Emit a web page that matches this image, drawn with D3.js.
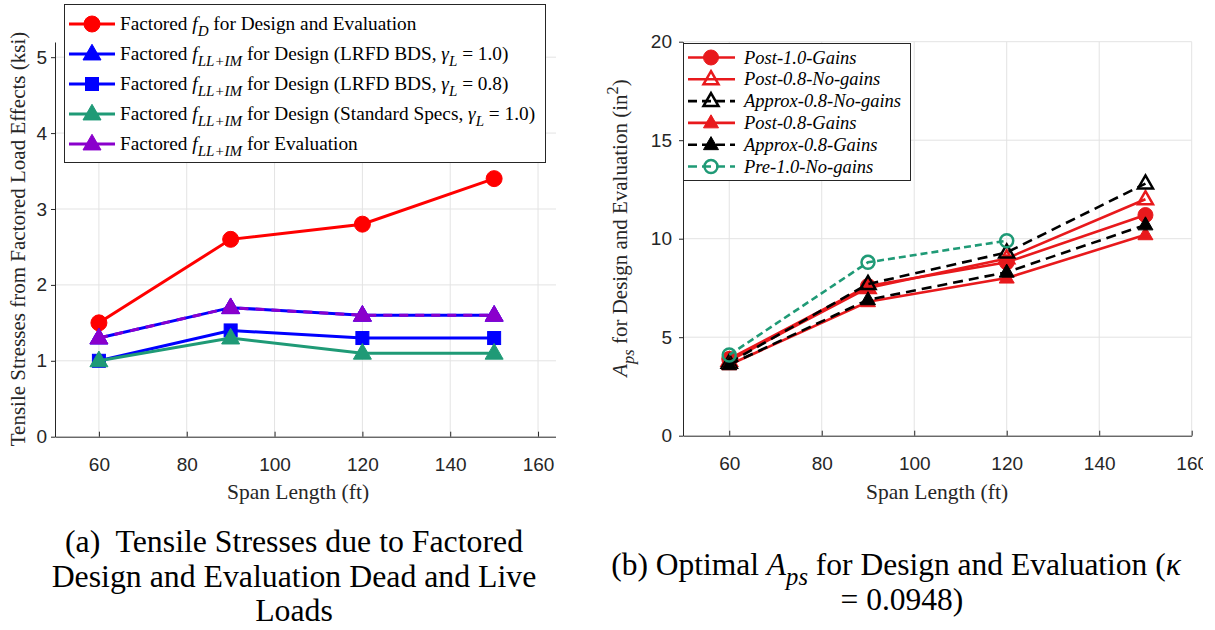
<!DOCTYPE html>
<html>
<head>
<meta charset="utf-8">
<script src="https://cdn.jsdelivr.net/npm/d3@7"></script>
<style>
body { margin: 0; background: #fff; }
svg { display: block; }
</style>
</head>
<body>
<svg id="fig" width="1215" height="630"></svg>
<script>
// --- data ---
var spans = [60, 90, 120, 150];
var spansPre = [60, 90, 120];
var xTicks = [60, 80, 100, 120, 140, 160];
var yTicksA = [0, 1, 2, 3, 4, 5];
var yTicksB = [0, 5, 10, 15, 20];

// (a) tensile stresses (ksi)
var fD = [1.5, 2.6, 2.8, 3.4];
var fLLDesign10 = [1.3, 1.7, 1.6, 1.6];
var fLLDesign08 = [1.0, 1.4, 1.3, 1.3];
var fLLStd10 = [1.0, 1.3, 1.1, 1.1];
var fLLEval = [1.3, 1.7, 1.6, 1.6];

// (b) optimal Aps (in^2)
var post10Gains = [3.9, 7.6, 8.8, 11.2];
var post08NoGains = [3.8, 7.5, 9.0, 12.0];
var approx08NoGains = [3.7, 7.7, 9.3, 12.8];
var post08Gains = [3.6, 6.8, 8.0, 10.2];
var approx08Gains = [3.6, 6.9, 8.3, 10.7];
var pre10NoGains = [4.1, 8.8, 9.9];

var legendA = [
  [{t: 'Factored '}, {t: 'f', i: 1}, {t: 'D', i: 1, sub: 1}, {t: ' for Design and Evaluation'}],
  [{t: 'Factored '}, {t: 'f', i: 1}, {t: 'LL+IM', i: 1, sub: 1}, {t: ' for Design (LRFD BDS, '}, {t: 'γ', i: 1}, {t: 'L', i: 1, sub: 1}, {t: ' = 1.0)'}],
  [{t: 'Factored '}, {t: 'f', i: 1}, {t: 'LL+IM', i: 1, sub: 1}, {t: ' for Design (LRFD BDS, '}, {t: 'γ', i: 1}, {t: 'L', i: 1, sub: 1}, {t: ' = 0.8)'}],
  [{t: 'Factored '}, {t: 'f', i: 1}, {t: 'LL+IM', i: 1, sub: 1}, {t: ' for Design (Standard Specs,  '}, {t: 'γ', i: 1}, {t: 'L', i: 1, sub: 1}, {t: ' = 1.0)'}],
  [{t: 'Factored '}, {t: 'f', i: 1}, {t: 'LL+IM', i: 1, sub: 1}, {t: ' for Evaluation'}]
];
var legendB = ['Post-1.0-Gains', 'Post-0.8-No-gains', 'Approx-0.8-No-gains', 'Post-0.8-Gains', 'Approx-0.8-Gains', 'Pre-1.0-No-gains'];

var RED = '#ff0000', BLUE = '#0000ff', GREEN = '#1f9a76', PURPLE = '#8a00cc';
var RED2 = '#e8191c', BLACK = '#000000';
var INK = '#262626', GRID = '#e3e3e3';
var SERIF = '"Liberation Serif", "Times New Roman", serif';
var SANS = '"Liberation Sans", Arial, sans-serif';

var seriesA = [
  {x: spans, y: fD, color: RED, marker: 'circle', fill: RED},
  {x: spans, y: fLLDesign10, color: BLUE, marker: 'tri', fill: BLUE},
  {x: spans, y: fLLDesign08, color: BLUE, marker: 'square', fill: BLUE},
  {x: spans, y: fLLStd10, color: GREEN, marker: 'tri', fill: GREEN},
  {x: spans, y: fLLEval, color: PURPLE, marker: 'tri', fill: PURPLE, dash: '9,7'}
];
var seriesB = [
  {x: spans, y: post10Gains, color: RED2, marker: 'circle', fill: RED2},
  {x: spans, y: post08NoGains, color: RED2, marker: 'tri', fill: '#fff'},
  {x: spans, y: approx08NoGains, color: BLACK, marker: 'tri', fill: '#fff', dash: '10,6'},
  {x: spans, y: post08Gains, color: RED2, marker: 'tri', fill: RED2},
  {x: spans, y: approx08Gains, color: BLACK, marker: 'tri', fill: BLACK, dash: '10,6'},
  {x: spansPre, y: pre10NoGains, color: GREEN, marker: 'ocircle', fill: '#fff', dash: '7,4'}
];

var svg = d3.select('#fig');
var defs = svg.append('defs');
defs.append('clipPath').attr('id', 'clipA').append('rect').attr('x', 0).attr('y', 0).attr('width', 556).attr('height', 630);
defs.append('clipPath').attr('id', 'clipB').append('rect').attr('x', 560).attr('y', 0).attr('width', 643).attr('height', 630);

// rich text with italic / sub / sup pieces
function rich(t, parts, fs) {
  var shift = 0;
  parts.forEach(function (p) {
    var target = p.sub ? fs * 0.33 : (p.sup ? -fs * 0.45 : 0);
    var ts = t.append('tspan').text(p.t).attr('dy', target - shift);
    shift = target;
    if (p.i) ts.style('font-style', 'italic');
    if (p.sub || p.sup) ts.attr('font-size', fs * 0.78);
  });
}

function marker(g, s, cx, cy, sz) {
  if (s.marker === 'circle') {
    g.append('circle').attr('cx', cx).attr('cy', cy).attr('r', sz.r)
      .attr('fill', s.fill).attr('stroke', s.color).attr('stroke-width', 1);
  } else if (s.marker === 'ocircle') {
    g.append('circle').attr('cx', cx).attr('cy', cy).attr('r', sz.r - 1)
      .attr('fill', 'none').attr('stroke', s.color).attr('stroke-width', 2.5);
  } else if (s.marker === 'square') {
    g.append('rect').attr('x', cx - sz.sq / 2).attr('y', cy - sz.sq / 2)
      .attr('width', sz.sq).attr('height', sz.sq).attr('fill', s.fill).attr('stroke', s.color);
  } else {
    var w = sz.tri, h = w * 0.87;
    var open = s.fill === '#fff';
    g.append('path')
      .attr('d', 'M' + cx + ',' + (cy - h * 0.62) + 'L' + (cx + w / 2) + ',' + (cy + h * 0.38) + 'L' + (cx - w / 2) + ',' + (cy + h * 0.38) + 'Z')
      .attr('fill', open ? 'none' : s.fill).attr('stroke', s.color)
      .attr('stroke-width', open ? 2.5 : 1).attr('stroke-linejoin', 'miter');
  }
}

function panel(opt) {
  var g = svg.append('g').attr('clip-path', 'url(#' + opt.clip + ')');
  var x = d3.scaleLinear().domain(opt.xDomain).range(opt.xRange);
  var y = d3.scaleLinear().domain(opt.yDomain).range(opt.yRange);

  // grid
  g.append('g').selectAll('line').data(xTicks).enter().append('line')
    .attr('x1', function (d) { return x(d); }).attr('x2', function (d) { return x(d); })
    .attr('y1', opt.yRange[0]).attr('y2', opt.yRange[1])
    .attr('stroke', GRID).attr('stroke-width', 1);
  g.append('g').selectAll('line').data(opt.yTicks.slice(1)).enter().append('line')
    .attr('x1', opt.xRange[0]).attr('x2', opt.xRange[1])
    .attr('y1', function (d) { return y(d); }).attr('y2', function (d) { return y(d); })
    .attr('stroke', GRID).attr('stroke-width', 1);

  // axes
  var ax = g.append('g').attr('transform', 'translate(0,' + opt.yRange[0] + ')')
    .call(d3.axisBottom(x).tickValues(xTicks).tickSizeInner(-5).tickSizeOuter(0).tickPadding(21).tickFormat(d3.format('d')));
  var ay = g.append('g').attr('transform', 'translate(' + opt.xRange[0] + ',0)')
    .call(d3.axisLeft(y).tickValues(opt.yTicks).tickSizeInner(4).tickSizeOuter(0).tickPadding(opt.yPad).tickFormat(d3.format('d')));
  [ax, ay].forEach(function (a) {
    a.select('.domain').attr('stroke', INK);
    a.selectAll('.tick line').attr('stroke', INK);
    a.selectAll('text').attr('font-family', SANS).attr('font-size', 19).attr('fill', INK);
  });

  // lines + markers
  var line = d3.line().x(function (d) { return x(d[0]); }).y(function (d) { return y(d[1]); });
  opt.series.forEach(function (s) {
    var pts = s.x.map(function (v, i) { return [v, s.y[i]]; });
    g.append('path').datum(pts).attr('d', line).attr('fill', 'none')
      .attr('stroke', s.color).attr('stroke-width', opt.lw)
      .attr('stroke-dasharray', s.dash || null);
    pts.forEach(function (p) { marker(g, s, x(p[0]), y(p[1]), opt.msz); });
  });

  // x label
  g.append('text').attr('x', (opt.xLabelX)).attr('y', 499).attr('text-anchor', 'middle')
    .attr('font-family', SERIF).attr('font-size', 21.5).attr('fill', INK).text('Span Length (ft)');
  return g;
}

// ---------- panel (a) ----------
var gA = panel({
  clip: 'clipA', xDomain: [50, 165], xRange: [55, 560], yDomain: [0, 5.2], yRange: [436.7, 42],
  yTicks: yTicksA, yPad: 4, series: seriesA, lw: 3, msz: {r: 8, sq: 13, tri: 18}, xLabelX: 298
});
gA.append('text').attr('transform', 'translate(25,239) rotate(-90)').attr('text-anchor', 'middle')
  .attr('font-family', SERIF).attr('font-size', 21).attr('fill', INK)
  .text('Tensile Stresses from Factored Load Effects (ksi)');

var legA = gA.append('g');
legA.append('rect').attr('x', 64.5).attr('y', 4.5).attr('width', 481).attr('height', 158)
  .attr('fill', '#fff').attr('stroke', INK).attr('stroke-width', 1);
var rowA = d3.scaleLinear().domain([0, 4]).range([24, 144]);
seriesA.forEach(function (s, i) {
  var yy = rowA(i);
  legA.append('line').attr('x1', 69).attr('x2', 115).attr('y1', yy).attr('y2', yy)
    .attr('stroke', s.color).attr('stroke-width', 3);
  marker(legA, s, 92, yy, {r: 8, sq: 13, tri: 18});
  var t = legA.append('text').attr('x', 120).attr('y', yy + 6)
    .attr('font-family', SERIF).attr('font-size', 19.3).attr('fill', '#000');
  rich(t, legendA[i], 19.3);
});

// ---------- panel (b) ----------
var gB = panel({
  clip: 'clipB', xDomain: [50, 160], xRange: [683, 1191.7], yDomain: [0, 20], yRange: [435.7, 41.7],
  yTicks: yTicksB, yPad: 7, series: seriesB, lw: 2.6, msz: {r: 7.5, sq: 12, tri: 15}, xLabelX: 937
});
var ylB = gB.append('text').attr('transform', 'translate(627,228) rotate(-90)').attr('text-anchor', 'middle')
  .attr('font-family', SERIF).attr('font-size', 21).attr('fill', INK);
rich(ylB, [{t: 'A', i: 1}, {t: 'ps', i: 1, sub: 1}, {t: ' for Design and Evaluation (in'}, {t: '2', sup: 1}, {t: ')'}], 21);

var legB = gB.append('g');
legB.append('rect').attr('x', 683.5).attr('y', 43.5).attr('width', 227).attr('height', 137)
  .attr('fill', '#fff').attr('stroke', INK).attr('stroke-width', 1);
var rowB = d3.scaleLinear().domain([0, 5]).range([57.5, 166.5]);
seriesB.forEach(function (s, i) {
  var yy = rowB(i);
  legB.append('line').attr('x1', 688).attr('x2', 735).attr('y1', yy).attr('y2', yy)
    .attr('stroke', s.color).attr('stroke-width', 2.6).attr('stroke-dasharray', s.dash ? '9,5' : null);
  marker(legB, s, 711, yy, {r: 7.5, sq: 12, tri: 15});
  legB.append('text').attr('x', 744).attr('y', yy + 6)
    .attr('font-family', SERIF).attr('font-size', 18.5).attr('font-style', 'italic').attr('fill', '#000')
    .text(legendB[i]);
});

// ---------- captions ----------
var capA = ['(a)  Tensile Stresses due to Factored', 'Design and Evaluation Dead and Live', 'Loads'];
capA.forEach(function (c, i) {
  svg.append('text').attr('x', 294).attr('y', 552 + i * 34.5).attr('text-anchor', 'middle')
    .attr('font-family', SERIF).attr('font-size', 31.8).attr('fill', '#000')
    .style('white-space', 'pre').text(c);
});
var capB1 = svg.append('text').attr('x', 896).attr('y', 575).attr('text-anchor', 'middle')
  .attr('font-family', SERIF).attr('font-size', 31.5).attr('fill', '#000');
rich(capB1, [{t: '(b) Optimal '}, {t: 'A', i: 1}, {t: 'ps', i: 1, sub: 1}, {t: ' for Design and Evaluation ('}, {t: 'κ', i: 1}], 31.5);
svg.append('text').attr('x', 902).attr('y', 610).attr('text-anchor', 'middle')
  .attr('font-family', SERIF).attr('font-size', 31.5).attr('fill', '#000').text('= 0.0948)');
</script>
</body>
</html>
